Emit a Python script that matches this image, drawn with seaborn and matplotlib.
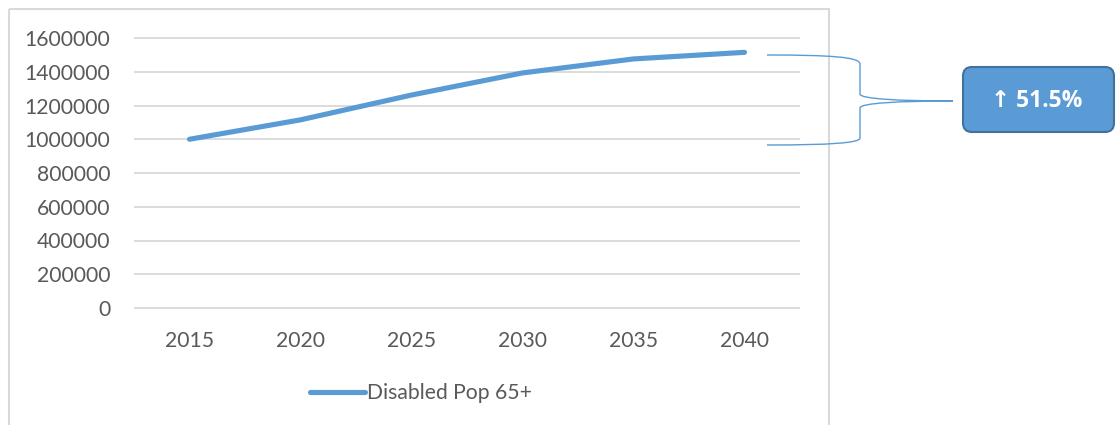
'''
Disabled Pop 65+ line chart -> out.png
'''
import numpy as np
import pandas as pd
import matplotlib.pyplot as plt
import matplotlib.patches as mpatches
from matplotlib.path import Path
import seaborn as sns

years = [2015, 2020, 2025, 2030, 2035, 2040]
disabled_pop = [1000000, 1115000, 1262000, 1393000, 1476000, 1515000]
series_name = 'Disabled Pop 65+'
change_label = '\u2191 51.5%'
y_ticks = [0, 200000, 400000, 600000, 800000, 1000000, 1200000, 1400000, 1600000]

BLUE = '#5B9BD5'
GREY = '#595959'

sns.set_style('white')
plt.rcParams['font.family'] = ['Lato', 'DejaVu Sans']

W, H = 1116, 425
fig = plt.figure(figsize=(W / 100, H / 100), dpi=100)

# plot area (pixels: x 134..800, gridlines y 38..308, axes padded 2px)
pad = 2
ax = fig.add_axes([134 / W, 1 - (308 + pad) / H, 666 / W, (270 + 2 * pad) / H])

df = pd.DataFrame({'year': years, 'value': disabled_pop})
sns.lineplot(data=df, x='year', y='value', color=BLUE, linewidth=3.7,
             label=series_name, ax=ax, solid_capstyle='round')

unit = 1600000 / 270
ax.set_xlim(2012.5, 2042.5)
ax.set_ylim(-pad * unit, 1600000 + pad * unit)
ax.set_xticks(years)
ax.set_yticks(y_ticks)
ax.set_yticklabels([str(v) for v in y_ticks])
ax.set_xlabel('')
ax.set_ylabel('')
ax.grid(axis='y', color='#D9D9D9', linewidth=1.3)
ax.set_axisbelow(True)
for s in ax.spines.values():
    s.set_visible(False)
ax.tick_params(axis='y', length=0, pad=17, labelsize=15.2, labelcolor=GREY)
ax.tick_params(axis='x', length=0, pad=15, labelsize=15.2, labelcolor=GREY)

leg = ax.legend(loc='center left', bbox_to_anchor=(310 / W, 1 - 393 / H),
                bbox_transform=fig.transFigure, frameon=False, fontsize=15.2,
                handlelength=2.6, handletextpad=0.1, borderpad=0, borderaxespad=0)
for t in leg.get_texts():
    t.set_color(GREY)

# overlay in pixel coords for the chart border, brace and callout
ov = fig.add_axes([0, 0, 1, 1], facecolor='none')
ov.set_xlim(0, W)
ov.set_ylim(H, 0)
ov.axis('off')

ov.add_patch(mpatches.Rectangle((9, 9), 820, 430, fill=False,
                                edgecolor='#D9D9D9', linewidth=1.5))

verts = [(767, 55), (830, 55), (860, 57), (860, 64),
         (860, 94),
         (860, 99), (900, 101), (953, 101),
         (900, 101), (860, 103), (860, 108),
         (860, 138),
         (860, 143), (830, 145), (767, 145)]
codes = [Path.MOVETO, Path.CURVE4, Path.CURVE4, Path.CURVE4,
         Path.LINETO,
         Path.CURVE4, Path.CURVE4, Path.CURVE4,
         Path.CURVE4, Path.CURVE4, Path.CURVE4,
         Path.LINETO,
         Path.CURVE4, Path.CURVE4, Path.CURVE4]
ov.add_patch(mpatches.PathPatch(Path(verts, codes), fill=False,
                                edgecolor=BLUE, linewidth=1.0))

ov.add_patch(mpatches.FancyBboxPatch((963, 67), 151, 65,
                                     boxstyle='round,pad=0,rounding_size=9',
                                     facecolor=BLUE, edgecolor='#41719C',
                                     linewidth=1.5))
ov.text(1037, 101, change_label, color='white', fontsize=16.5, fontweight='bold',
        family=['Open Sans', 'DejaVu Sans'], ha='center', va='center')

plt.savefig('out.png', dpi=100)
plt.close('all')
